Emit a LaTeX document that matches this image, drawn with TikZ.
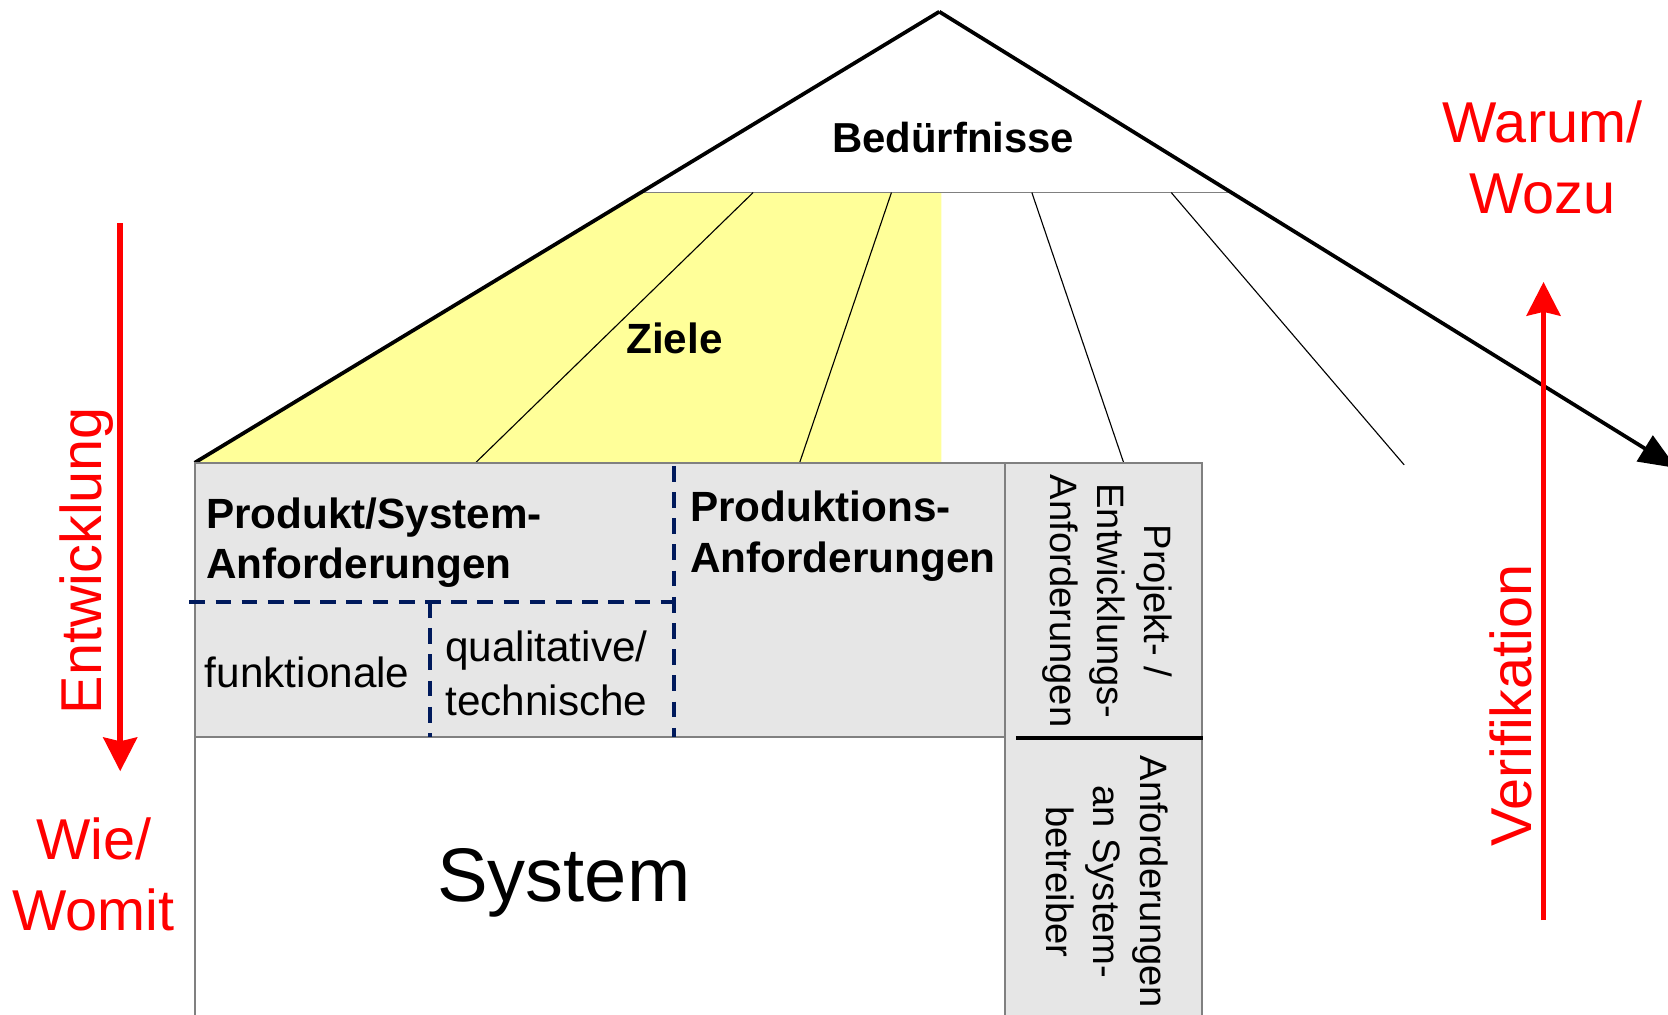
\documentclass[tikz,border=0pt]{standalone}
\usepackage{fontspec}
\setmainfont{Liberation Sans}
\usetikzlibrary{arrows.meta}
\definecolor{zielgelb}{HTML}{FFFF99}
\definecolor{kastengrau}{HTML}{E6E6E6}
\definecolor{rahmengrau}{HTML}{808080}
\definecolor{strichblau}{HTML}{001A5C}
\tikzset{
  fett/.style={font=\fontsize{11.3}{13.4}\selectfont\bfseries, align=left, inner sep=0pt},
  normal/.style={font=\fontsize{11.3}{14.2}\selectfont, align=left, inner sep=0pt},
  hochkant/.style={font=\fontsize{10.2}{12.5}\selectfont, align=center, inner sep=0pt, rotate=-90},
  rottext/.style={font=\fontsize{15.4}{19}\selectfont, text=red, align=center, inner sep=0pt},
  rotpfeil/.style={draw=red, line width=1.5pt, -{Stealth[inset=1pt, length=9pt, width=9pt]}},
  duenn/.style={line width=0.3pt},
  kasten/.style={fill=kastengrau, draw=rahmengrau, line width=0.5pt},
  strichel/.style={draw=strichblau, line width=1.1pt, dash pattern=on 4.2pt off 2.8pt}
}
\begin{document}
\begin{tikzpicture}[x=0.01cm, y=0.01cm]
  \useasboundingbox (0,0) rectangle (1568,-954);
  \coordinate (spitze) at (883,-11);
  \coordinate (links) at (183,-435);
  \coordinate (pfeilende) at (1576,-440);
  \coordinate (bl) at (603,-181);
  \coordinate (br) at (1159,-181);

  % Ziele
  \fill[zielgelb] (bl) -- (885,-181) -- (885,-435) -- (links) -- cycle;
  \draw[duenn, draw=rahmengrau] (bl) -- (br);
  \foreach \a/\b in {708/445, 838/751, 970/1057, 1101/1320}
    \draw[duenn] (\a,-181) -- (\b,-437);

  % Dach
  \draw[line width=1pt] (spitze) -- (links);
  \draw[line width=1pt, -{Triangle[length=10pt, width=8pt]}] (spitze) -- (pfeilende);

  % Kaesten
  \draw[kasten] (183,-435) rectangle (945,-693);
  \draw[kasten] (945,-435) rectangle (1130,-960);
  \draw[draw=rahmengrau, line width=0.5pt] (183,-693) -- (183,-960);
  \draw[line width=1pt] (955,-694) -- (1131,-694);

  \begin{scope}[strichel]
    \draw (634,-438) -- (634,-693);
    \draw (178,-566) -- (634,-566);
    \draw (404,-566) -- (404,-693);
  \end{scope}

  % Texte
  \node[fett, font=\fontsize{11.2}{13.4}\selectfont\bfseries] (beduerfnisse) at (896,-129) {Bedürfnisse};
  \node[fett] (ziele) at (634,-318) {Ziele};
  \node[fett, anchor=west] (produkt) at (193,-510) {Produkt/System-\\Anforderungen};
  \node[fett, anchor=west] (produktion) at (648,-504) {Produktions-\\Anforderungen};
  \node[normal, anchor=west] (funktional) at (192,-632) {funktionale};
  \node[normal, anchor=west] (qualitativ) at (418,-633) {qualitative/\\technische};
  \node[font=\fontsize{20.3}{24}\selectfont, inner sep=0pt] (system) at (530,-830) {System};
  \node[hochkant] (projekt) at (1041,-565) {Projekt- /\\Entwicklungs-\\Anforderungen};
  \node[hochkant] (betreiber) at (1041,-829) {Anforderungen\\an System-\\betreiber};

  \node[rottext] (warum) at (1450,-148) {Warum/\\Wozu};
  \node[rottext] (wie) at (88,-822) {Wie/\\Womit};
  \node[rottext, rotate=90] (entwicklung) at (81,-527) {Entwicklung};
  \node[rottext, rotate=90] (verifikation) at (1420,-663) {Verifikation};

  \coordinate (ew-oben) at (113,-210);
  \coordinate (ew-unten) at (113,-725);
  \coordinate (vf-unten) at (1451,-865);
  \coordinate (vf-oben) at (1451,-265);
  \draw[rotpfeil] (ew-oben) -- (ew-unten);
  \draw[rotpfeil] (vf-unten) -- (vf-oben);
\end{tikzpicture}
\end{document}
